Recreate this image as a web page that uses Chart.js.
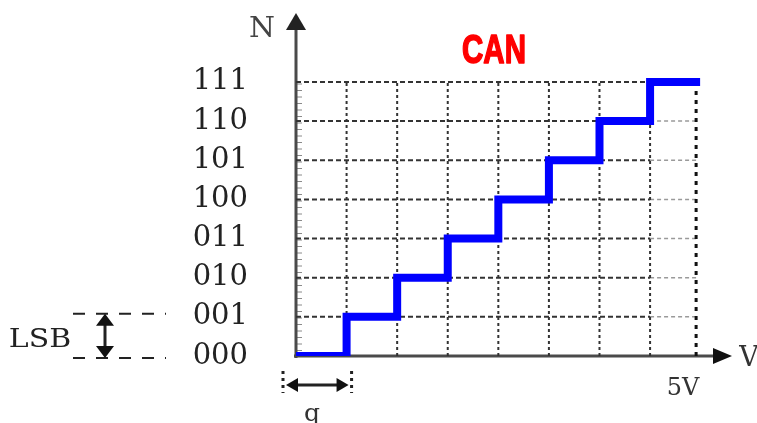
<!DOCTYPE html>
<html>
<head>
<meta charset="utf-8">
<script src="https://cdn.jsdelivr.net/npm/chart.js@4.4.1/dist/chart.umd.min.js"></script>
<style>
html,body{margin:0;padding:0;background:#fff;}
canvas{display:block;}
</style>
</head>
<body>
<canvas id="c" width="757" height="423"></canvas>
<script>
// ---- data ----
const levelLabels = ['000','001','010','011','100','101','110','111'];
const levels = [0,1,2,3,4,5,6,7];
const stepEdges = [0,1,2,3,4,5,6,7];   // input (in q units) where each code begins
const fullScaleX = 7.91;               // position of 5V
const xTickLabels = ['5V'];
const titleText = 'CAN';
const yAxisName = 'N';
const xAxisName = 'V';
const lsbText = 'LSB';
const qText = 'q';

// ---- datasets built from data ----
const stair = stepEdges.map((x,i)=>({x:x, y:levels[i]}));
stair.push({x:fullScaleX, y:levels[levels.length-1]});

const topLevel = levels[levels.length-1];
const vGrid = [];
stepEdges.slice(1).forEach(x=>{ vGrid.push({x:x,y:0},{x:x,y:topLevel},{x:x,y:null}); });
const hGrid = [];
levels.slice(1).forEach(y=>{
  const xe = (y===topLevel) ? fullScaleX : stepEdges[stepEdges.length-1];
  hGrid.push({x:0,y:y},{x:xe,y:y},{x:xe,y:null});
});
const hGridExt = [];
levels.slice(1, -1).forEach(y=>{ hGridExt.push({x:stepEdges[stepEdges.length-1],y:y},{x:fullScaleX,y:y},{x:fullScaleX,y:null}); });
const fsLine = [{x:fullScaleX,y:0},{x:fullScaleX,y:topLevel}];

function drawText(ctx, txt, x, y, font, color, sx, strokeW){
  ctx.save();
  ctx.font = font; ctx.fillStyle = color; ctx.textAlign = 'center'; ctx.textBaseline='alphabetic';
  ctx.translate(x,y); ctx.scale(sx||1,1);
  ctx.fillText(txt,0,0);
  if(strokeW){ ctx.strokeStyle=color; ctx.lineWidth=strokeW; ctx.lineJoin='round'; ctx.strokeText(txt,0,0); }
  ctx.restore();
}
function tri(ctx, pts, color){
  ctx.beginPath(); ctx.moveTo(pts[0][0],pts[0][1]);
  for(let i=1;i<pts.length;i++) ctx.lineTo(pts[i][0],pts[i][1]);
  ctx.closePath(); ctx.fillStyle=color; ctx.fill();
}

const decor = {
  id:'decor',
  beforeDatasetsDraw(chart){
    const ctx = chart.ctx, xs = chart.scales.x, ys = chart.scales.y, ca = chart.chartArea;
    const x0 = xs.getPixelForValue(0), y0 = ys.getPixelForValue(0);
    ctx.save();
    ctx.strokeStyle='rgba(60,60,60,0.6)'; ctx.lineWidth=1;
    const yTop = ys.getPixelForValue(topLevel);
    for(let p=y0-6; p>yTop; p-=6.5){ ctx.beginPath(); ctx.moveTo(x0,p+0.5); ctx.lineTo(x0+6,p+0.5); ctx.stroke(); }
    ctx.strokeStyle='#4a4a4a'; ctx.lineWidth=3;
    ctx.beginPath(); ctx.moveTo(x0, y0+2); ctx.lineTo(x0, ca.top+12); ctx.stroke();
    ctx.beginPath(); ctx.moveTo(x0-2, y0); ctx.lineTo(ca.right-14, y0); ctx.stroke();
    ctx.restore();
  },
  afterDatasetsDraw(chart){
    const ctx = chart.ctx, xs = chart.scales.x, ys = chart.scales.y, ca = chart.chartArea;
    const x0 = xs.getPixelForValue(0), y0 = ys.getPixelForValue(0);
    tri(ctx, [[x0,ca.top],[x0-10,ca.top+17],[x0+10,ca.top+17]], '#222');
    tri(ctx, [[ca.right+2,y0],[ca.right-17,y0-8],[ca.right-17,y0+8]], '#111');
    drawText(ctx, yAxisName, 262, 37, '27px "DejaVu Serif"', '#444', 1.1);
    drawText(ctx, xAxisName, 749, 366, '27px "DejaVu Serif"', '#333', 1.0);
    drawText(ctx, titleText, 494, 63, 'bold 41px "Liberation Sans Narrow", "Liberation Sans", Arial', '#ff0000', 0.72, 1.6);
    // LSB annotation
    const yL1 = ys.getPixelForValue(1) - 3, yL0 = y0 + 2;
    ctx.save();
    ctx.strokeStyle='#222'; ctx.lineWidth=2; ctx.setLineDash([12,11]);
    ctx.beginPath(); ctx.moveTo(73,yL1); ctx.lineTo(166,yL1); ctx.stroke();
    ctx.beginPath(); ctx.moveTo(73,yL0); ctx.lineTo(166,yL0); ctx.stroke();
    ctx.setLineDash([]); ctx.lineWidth=3;
    ctx.beginPath(); ctx.moveTo(105,yL1+8); ctx.lineTo(105,yL0-8); ctx.stroke();
    ctx.restore();
    tri(ctx, [[105,yL1],[96,yL1+12],[114,yL1+12]], '#111');
    tri(ctx, [[105,yL0],[96,yL0-12],[114,yL0-12]], '#111');
    drawText(ctx, lsbText, 40, 347, '26px "DejaVu Serif"', '#222', 1.15);
    // q annotation
    const qa = x0 - 13, qb = xs.getPixelForValue(stepEdges[1]) + 5, qy = 385;
    ctx.save();
    ctx.strokeStyle='#222'; ctx.lineWidth=3; ctx.setLineDash([3,4]);
    ctx.beginPath(); ctx.moveTo(qa,371); ctx.lineTo(qa,393); ctx.stroke();
    ctx.beginPath(); ctx.moveTo(qb,371); ctx.lineTo(qb,393); ctx.stroke();
    ctx.setLineDash([]); ctx.lineWidth=3;
    ctx.beginPath(); ctx.moveTo(qa+10,qy); ctx.lineTo(qb-10,qy); ctx.stroke();
    ctx.restore();
    tri(ctx, [[qa+3,qy],[qa+15,qy-7],[qa+15,qy+7]], '#111');
    tri(ctx, [[qb-3,qy],[qb-15,qy-7],[qb-15,qy+7]], '#111');
    drawText(ctx, qText, 312, 421, '25px "DejaVu Serif"', '#333', 1.0);
  }
};

new Chart(document.getElementById('c'), {
  type:'scatter',
  data:{ datasets:[
    { type:'line', data:stair, stepped:true, borderColor:'#0000ff', borderWidth:8, borderCapStyle:'square', borderJoinStyle:'miter', pointRadius:0, fill:false, order:0 },
    { type:'line', data:vGrid, borderColor:'#333', borderWidth:2, borderDash:[3,3], pointRadius:0, spanGaps:false, order:2 },
    { type:'line', data:hGrid, borderColor:'#333', borderWidth:2, borderDash:[5,3], pointRadius:0, spanGaps:false, order:2 },
    { type:'line', data:hGridExt, borderColor:'#9a9a9a', borderWidth:1.5, borderDash:[4,3], pointRadius:0, spanGaps:false, order:3 },
    { type:'line', data:fsLine, borderColor:'#111', borderWidth:3, borderDash:[4,5], pointRadius:0, order:1 }
  ]},
  options:{
    responsive:false, animation:false, events:[],
    layout:{ padding:{ left:0, top:13, right:27, bottom:0 }, autoPadding:false },
    plugins:{ legend:{display:false}, tooltip:{enabled:false}, title:{display:false} },
    scales:{
      x:{ type:'linear', min:0, max:8.58,
        grid:{display:false, drawTicks:false}, border:{display:false},
        afterBuildTicks:s=>{ s.ticks=[{value:fullScaleX}]; },
        afterFit:s=>{ s.height = 67; s.paddingLeft = 0; s.paddingRight = 0; },
        ticks:{ callback:(v,i)=>xTickLabels[i], font:{family:'"DejaVu Serif"', size:24}, color:'#333', padding:18, labelOffset:-13, maxRotation:0, autoSkip:false }
      },
      y:{ type:'linear', min:0, max:8.76,
        grid:{display:false, drawTicks:false}, border:{display:false},
        afterBuildTicks:s=>{ s.ticks=levels.map(v=>({value:v})); },
        afterFit:s=>{ s.width = 296; s.paddingTop = 0; s.paddingBottom = 0; },
        ticks:{ callback:(v,i)=>levelLabels[i], font:{family:'"DejaVu Serif"', size:29}, color:'#222', padding:48, autoSkip:false }
      }
    }
  },
  plugins:[decor]
});
</script>
</body>
</html>
